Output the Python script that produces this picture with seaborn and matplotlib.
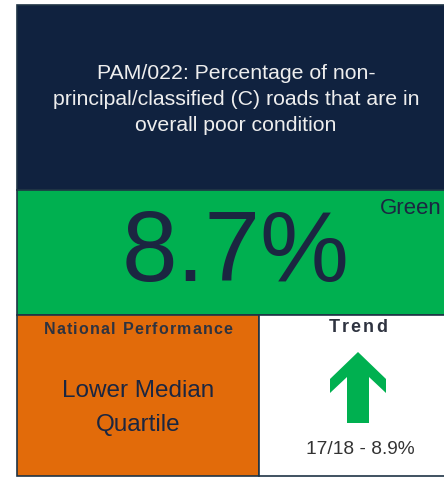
import matplotlib
matplotlib.use("Agg")
import matplotlib.pyplot as plt
import matplotlib.patches as mpatches
from matplotlib.font_manager import FontProperties
import seaborn as sns

# KPI tile content
title_lines = ["PAM/022: Percentage of non-",
               "principal/classified (C) roads that are in",
               "overall poor condition"]
current_value = 8.7
status = "Green"
national_label = "National Performance"
national_band = ["Lower Median", "Quartile"]
trend_label = "Trend"
prev_year = "17/18"
prev_value = 8.9

NAVY = "#10223f"
GREEN = "#00b050"
ORANGE = "#e26b0a"
TEXT_DARK = "#1b2641"
EDGE = "#1f3445"

sns.set_theme(style="white")
plt.rcParams["font.family"] = ["Liberation Sans", "DejaVu Sans"]

fig = plt.figure(figsize=(4.44, 4.78), dpi=100)
fig.patch.set_facecolor("white")
ax = fig.add_axes([0, 0, 1, 1])
ax.set_xlim(0, 444)
ax.set_ylim(478, 0)
ax.axis("off")
renderer = fig.canvas.get_renderer()


def spaced_text(xc, y, s, spacing, size, weight="normal", color="black"):
    # letter-spaced text, one glyph at a time (axes units == pixels)
    prop = FontProperties(family="Liberation Sans", size=size, weight=weight)
    def width(t):
        return renderer.get_text_width_height_descent(t, prop, ismath=False)[0] if t else 0
    total = width(s) + spacing * (len(s) - 1)
    x0 = xc - total / 2
    for i, ch in enumerate(s):
        ax.text(x0 + width(s[:i]) + i * spacing, y, ch, ha="left", va="center",
                fontproperties=prop, color=color)


# tiles (pixel layout)
tiles = [
    (17, 5, 430, 185, NAVY),
    (17, 190, 430, 125, GREEN),
    (17, 315, 242, 161, ORANGE),
    (259, 315, 188, 161, "white"),
]
for x, y, w, h, c in tiles:
    ax.add_patch(mpatches.Rectangle((x, y), w, h, facecolor=c,
                                    edgecolor=EDGE, linewidth=1.2))

# title
for i, line in enumerate(title_lines):
    ax.text(236, 73 + i * 26, line, ha="center", va="center",
            fontsize=15.3, color="#eeeeee")

# big value
ax.text(236, 255, f"{current_value:.1f}%", ha="center", va="center",
        fontsize=72, color=TEXT_DARK)
ax.text(442, 208, status, ha="right", va="center", fontsize=16,
        color=TEXT_DARK)

# national performance
spaced_text(138, 330, national_label, 1.2, 11.5, weight="bold", color="#2e3340")
for i, line in enumerate(national_band):
    ax.text(138, 391 + i * 34, line, ha="center", va="center",
            fontsize=17.5, color=TEXT_DARK)

# trend arrow: points up when the figure has improved (fallen)
spaced_text(358, 328, trend_label, 2.5, 13, weight="bold", color="#2e3340")
sign = 1 if current_value < prev_value else -1
cx, base = 358, 387
arrow = [(0, -35), (28, -8), (28, 6), (11, -10), (11, 36), (-11, 36),
         (-11, -10), (-28, 6), (-28, -8)]
ax.add_patch(mpatches.Polygon([(cx + dx, base + sign * dy) for dx, dy in arrow],
                              closed=True, facecolor=GREEN, edgecolor="none"))
ax.text(360, 449, f"{prev_year} - {prev_value:.1f}%", ha="center",
        va="center", fontsize=13.8, color="#333333")

fig.savefig("out.png", dpi=100)
